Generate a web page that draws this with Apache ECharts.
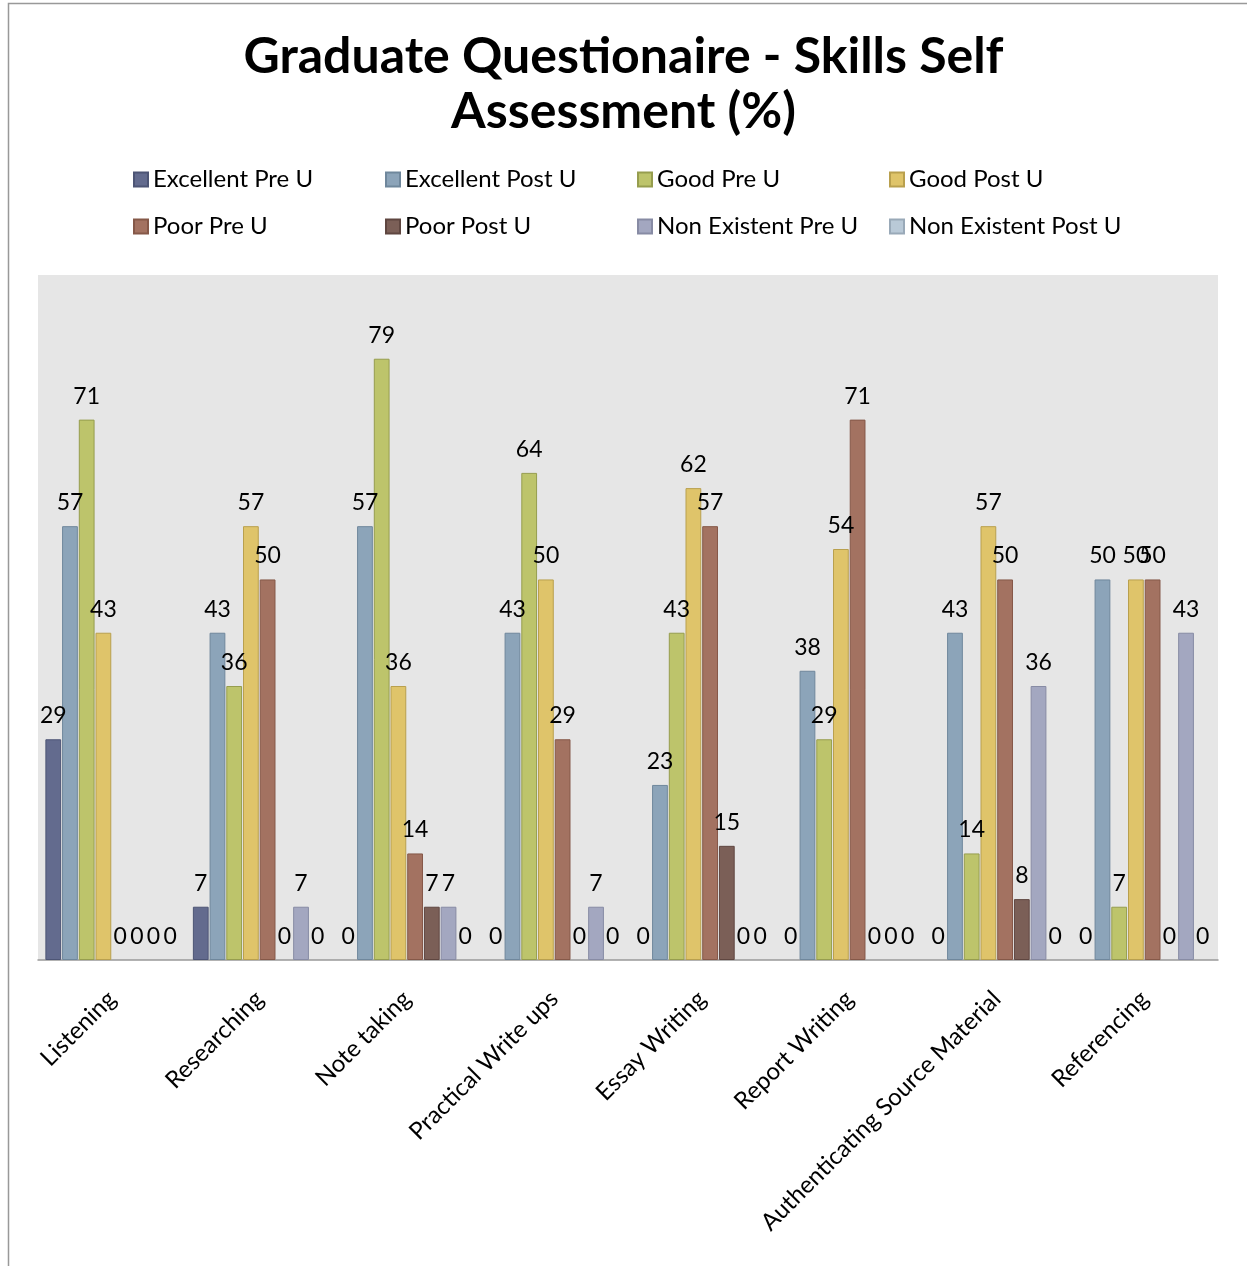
<!DOCTYPE html>
<html>
<head>
<meta charset="utf-8">
<script src="https://cdn.jsdelivr.net/npm/echarts@6/dist/echarts.min.js"></script>
<style>
  html, body { margin: 0; padding: 0; background: #fff; }
  #chart { width: 1247px; height: 1266px; }
</style>
</head>
<body>
<div id="chart"></div>
<script>
// skills (x axis)
var skills = ['Listening', 'Researching', 'Note taking', 'Practical Write ups',
  'Essay Writing', 'Report Writing', 'Authenticating Source Material', 'Referencing'];

// percentages per rating, one value per skill
var excellentPre   = [29, 7, 0, 0, 0, 0, 0, 0];
var excellentPost  = [57, 43, 57, 43, 23, 38, 43, 50];
var goodPre        = [71, 36, 79, 64, 43, 29, 14, 7];
var goodPost       = [43, 57, 36, 50, 62, 54, 57, 50];
var poorPre        = [0, 50, 14, 29, 57, 71, 50, 50];
var poorPost       = [0, 0, 7, 0, 15, 0, 8, 0];
var nonExistPre    = [0, 7, 7, 7, 0, 0, 36, 43];
var nonExistPost   = [0, 0, 0, 0, 0, 0, 0, 0];

var seriesNames = ['Excellent Pre U', 'Excellent Post U', 'Good Pre U', 'Good Post U',
  'Poor Pre U', 'Poor Post U', 'Non Existent Pre U', 'Non Existent Post U'];
var seriesData = [excellentPre, excellentPost, goodPre, goodPost,
  poorPre, poorPost, nonExistPre, nonExistPost];
var colors  = ['#636b8e', '#8ca4b9', '#bdc46b', '#dfc46a', '#a37261', '#7b5f57', '#a3a7c0', '#b9c9d7'];
var borders = ['#4d5575', '#6f879c', '#969d4e', '#b9a04e', '#855848', '#5f4640', '#878ba4', '#99a9b8'];

var FONT = 'Lato, "Open Sans", sans-serif';

var chart = echarts.init(document.getElementById('chart'));

var series = seriesNames.map(function (name, i) {
  return {
    name: name,
    type: 'bar',
    // zero bars: no outline, so nothing shows on the axis
    data: seriesData[i].map(function (v) {
      return v === 0 ? { value: v, itemStyle: { borderWidth: 0 } } : v;
    }),
    barGap: '6%',
    barCategoryGap: '10%',
    itemStyle: { color: colors[i], borderColor: borders[i], borderWidth: 1 },
    label: {
      show: true,
      position: 'top',
      distance: 12,
      color: '#000',
      fontSize: 23,
      fontFamily: FONT
    }
  };
});

var option = {
  animation: false,
  backgroundColor: '#fff',
  color: colors,
  title: {
    text: 'Graduate Questionaire - Skills Self\nAssessment (%)',
    left: 'center',
    top: 24,
    textStyle: {
      fontFamily: FONT,
      fontWeight: 'bold',
      fontSize: 50,
      lineHeight: 55,
      color: '#000'
    }
  },
  legend: {
    data: seriesNames,
    left: 128,
    top: 155,
    width: 1060,
    itemWidth: 14,
    itemHeight: 14,
    itemGap: 8,
    icon: 'rect',
    textStyle: {
      fontFamily: FONT,
      fontSize: 24,
      color: '#000',
      width: 224,
      lineHeight: 39
    }
  },
  grid: {
    left: 38,
    right: 29,
    top: 275,
    bottom: 306,
    show: true,
    backgroundColor: '#e6e6e6',
    borderWidth: 0
  },
  xAxis: {
    type: 'category',
    data: skills,
    axisLine: { lineStyle: { color: '#999', width: 1.5 } },
    axisTick: { show: false },
    axisLabel: {
      rotate: 45,
      interval: 0,
      margin: 35,
      fontFamily: FONT,
      fontSize: 24,
      color: '#000'
    }
  },
  yAxis: {
    type: 'value',
    min: 0,
    max: 90,
    show: false,
    splitLine: { show: false }
  },
  graphic: [{
    type: 'rect',
    shape: { x: 8.5, y: 3.5, width: 1300, height: 1300 },
    style: { fill: 'none', stroke: '#999', lineWidth: 1.5 },
    silent: true
  }],
  series: series
};

chart.setOption(option);
</script>
</body>
</html>
